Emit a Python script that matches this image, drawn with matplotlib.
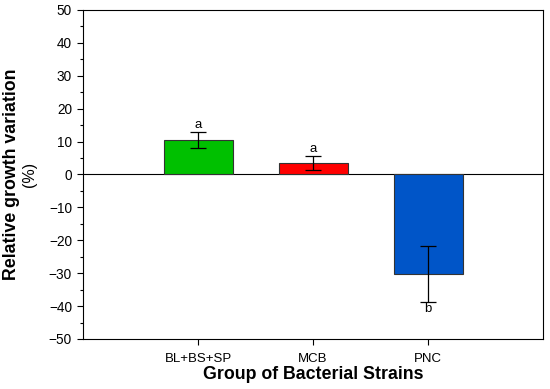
import matplotlib.pyplot as plt
from matplotlib.ticker import MultipleLocator

plt.rcParams['font.family'] = ['Liberation Sans', 'DejaVu Sans']

# data
groups = ["BL+BS+SP", "MCB", "PNC"]
growth = [10.5, 3.5, -30.3]
errors = [2.4, 2.1, 8.5]
letters = ["a", "a", "b"]
bar_colors = ["#00C000", "#FF0000", "#0055C8"]

fig = plt.figure(figsize=(5.5, 3.89), dpi=100)
ax = fig.add_axes([83 / 550, 1 - 339 / 389, 460 / 550, 329 / 389])

x = [1, 2, 3]
ax.bar(x, growth, width=0.6, color=bar_colors, edgecolor="#333333", linewidth=0.8, zorder=2)
ax.errorbar(x, growth, yerr=errors, fmt="none", ecolor="black", elinewidth=0.9,
            capsize=5.5, capthick=0.9, zorder=3)
ax.axhline(0, color="black", linewidth=0.8, zorder=1)

# significance letters
for xi, v, e, lab in zip(x, growth, errors, letters):
    if v >= 0:
        ax.text(xi, v + e + 0.2, lab, ha="center", va="bottom", fontsize=9.5)
    else:
        ax.text(xi, v - e - 0.2, lab, ha="center", va="top", fontsize=9.5)

ax.set_xlim(0, 4)
ax.set_ylim(-50, 50)
ax.set_xticks(x)
ax.set_xticklabels(groups, fontsize=9.5)
ax.yaxis.set_major_locator(MultipleLocator(10))
ax.yaxis.set_minor_locator(MultipleLocator(5))
ax.tick_params(axis="y", labelsize=9.8, direction="out", length=4.5, width=0.8)
ax.tick_params(axis="y", which="minor", direction="out", length=2.5, width=0.8)
ax.tick_params(axis="x", direction="out", length=4, width=0.8, pad=6)
for s in ax.spines.values():
    s.set_linewidth(0.8)

ax.set_xlabel("Group of Bacterial Strains", fontsize=12.8, fontweight="bold", labelpad=1)
fig.text(12 / 550, 1 - 174 / 389, "Relative growth variation", rotation=90,
         ha="center", va="center", fontsize=12.8, fontweight="bold")
fig.text(30 / 550, 1 - 174 / 389, "(%)", rotation=90, ha="center", va="center", fontsize=11.5)

plt.savefig("out.png", dpi=100)
